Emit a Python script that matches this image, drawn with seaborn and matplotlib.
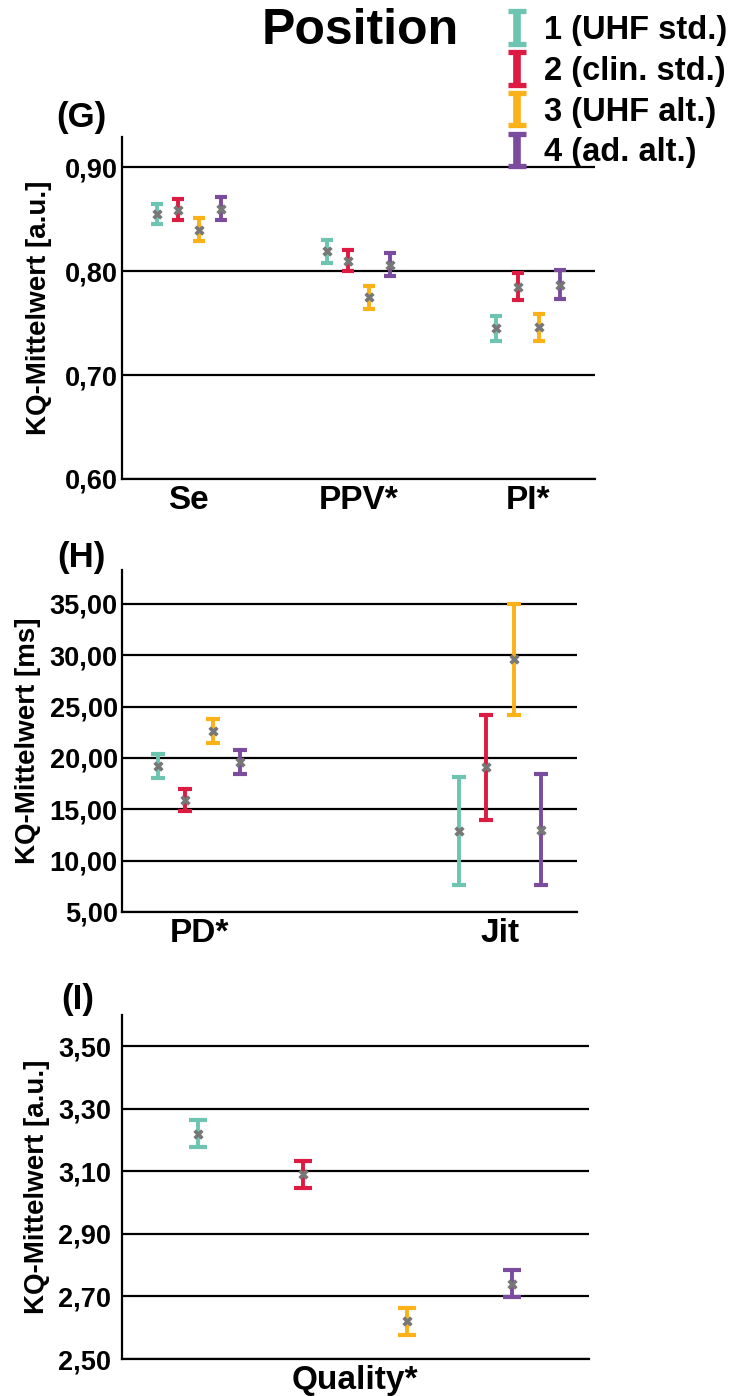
import numpy as np
import pandas as pd
import matplotlib
matplotlib.use("Agg")
import matplotlib.pyplot as plt
import seaborn as sns
from matplotlib.ticker import FuncFormatter
from matplotlib.transforms import ScaledTranslation
from matplotlib.legend_handler import HandlerErrorbar
from matplotlib.container import ErrorbarContainer

# ---------------- data ----------------
series_names = ["1 (UHF std.)", "2 (clin. std.)", "3 (UHF alt.)", "4 (ad. alt.)"]
series_colors = ["#6DC4B0", "#DC1A42", "#FBB118", "#7B4B9D"]

# Panel G
g_categories = ["Se", "PPV*", "PI*"]
g_means = [
    [0.855, 0.819, 0.745],
    [0.859, 0.810, 0.785],
    [0.840, 0.775, 0.746],
    [0.860, 0.806, 0.787],
]
g_errs = [
    [0.010, 0.011, 0.012],
    [0.010, 0.010, 0.013],
    [0.011, 0.011, 0.013],
    [0.011, 0.011, 0.014],
]
g_ticks = [0.60, 0.70, 0.80, 0.90]

# Panel H
h_categories = ["PD*", "Jit"]
h_means = [
    [19.2, 12.9],
    [15.9, 19.1],
    [22.6, 29.6],
    [19.6, 13.0],
]
h_errs = [
    [1.15, 5.25],
    [1.10, 5.10],
    [1.15, 5.40],
    [1.15, 5.40],
]
h_ticks = [5, 10, 15, 20, 25, 30, 35]

# Panel I
i_categories = ["Quality*"]
i_means = [[3.22], [3.09], [2.62], [2.74]]
i_errs = [[0.043], [0.043], [0.043], [0.043]]
i_ticks = [2.50, 2.70, 2.90, 3.10, 3.30, 3.50]

# ---------------- style ----------------
sns.set_theme(style="white")
plt.rcParams["font.family"] = ["Liberation Sans", "DejaVu Sans"]
plt.rcParams["font.weight"] = "bold"
for k in ["text.color", "axes.labelcolor", "xtick.color", "ytick.color"]:
    plt.rcParams[k] = "black"

W, H = 732, 1396
fig = plt.figure(figsize=(W / 100, H / 100), dpi=100)


def px_axes(left, right, top, bottom):
    return fig.add_axes([left / W, 1 - bottom / H, (right - left) / W, (bottom - top) / H])


comma = FuncFormatter(lambda v, p: f"{v:.2f}".replace(".", ","))


def draw_panel(ax, cats, means, errs, offsets, capsize, ticks, ylim, xlim,
               ylabel, label_shifts, ypad=3):
    rows = []
    for i, (m, e) in enumerate(zip(means, errs)):
        xs = np.arange(len(cats)) + offsets[i]
        ax.errorbar(xs, m, yerr=e, fmt="none", ecolor=series_colors[i],
                    elinewidth=2.8, capsize=capsize, capthick=3.0, zorder=3)
        for x, y in zip(xs, m):
            rows.append({"x": x, "y": y, "series": series_names[i]})
    df = pd.DataFrame(rows)
    sns.scatterplot(data=df, x="x", y="y", color="#777777", marker="X", s=55,
                    linewidth=0, ax=ax, zorder=5, legend=False)
    ax.set_xlim(*xlim)
    ax.set_ylim(*ylim)
    ax.set_yticks(ticks)
    ax.yaxis.set_major_formatter(comma)
    ax.set_xticks(np.arange(len(cats)))
    ax.set_xticklabels(cats, fontsize=24, fontweight="bold")
    for lab, dx in zip(ax.get_xticklabels(), label_shifts):
        lab.set_transform(lab.get_transform() + ScaledTranslation(dx / 100, 0, fig.dpi_scale_trans))
    ax.tick_params(axis="y", length=0, pad=ypad, labelsize=19.5)
    ax.tick_params(axis="x", length=0, pad=4)
    for t in ax.get_yticklabels():
        t.set_fontweight("bold")
    ax.grid(axis="y", color="black", linewidth=1.6)
    ax.grid(axis="x", visible=False)
    ax.set_axisbelow(True)
    for s in ["top", "right"]:
        ax.spines[s].set_visible(False)
    for s in ["left", "bottom"]:
        ax.spines[s].set_color("black")
        ax.spines[s].set_linewidth(1.6)
    ax.set_xlabel("")
    ax.set_ylabel(ylabel, fontsize=20, fontweight="bold")


# Panel G
axG = px_axes(122, 595, 137, 479)
draw_panel(axG, g_categories, g_means, g_errs,
           [-0.1875, -0.0625, 0.0625, 0.1875], 4.4, g_ticks,
           (0.60, 0.929), (-0.394, 2.394), "KQ-Mittelwert [a.u.]",
           [1, 14, 12])
axG.yaxis.set_label_coords(-(122 - 52) / 473, 0.5)

# Panel H
axH = px_axes(122, 577, 570, 912)
draw_panel(axH, h_categories, h_means, h_errs,
           [-0.135, -0.045, 0.045, 0.135], 5.2, h_ticks,
           (5, 38.3), (-0.256, 1.256), "KQ-Mittelwert [ms]",
           [22, 0])
axH.yaxis.set_label_coords(-(122 - 41) / 455, 0.5)

# Panel I
axI = px_axes(122, 589, 1015, 1359)
draw_panel(axI, i_categories, i_means, i_errs,
           [-1.5, -0.5, 0.5, 1.5], 6.2, i_ticks,
           (2.50, 3.60), (-2.22, 2.23), "KQ-Mittelwert [a.u.]",
           [-3], ypad=8)
axI.yaxis.set_label_coords(-(122 - 50) / 467, 0.5)

# Panel letters and title
for txt, x, y in [("(G)", 81, 117), ("(H)", 81, 558), ("(I)", 78, 1000)]:
    fig.text(x / W, 1 - y / H, txt, ha="center", va="center",
             fontsize=25, fontweight="bold")
fig.text(360 / W, 1 - 31 / H, "Position", ha="center", va="center",
         fontsize=36, fontweight="bold")

# Legend with thick "I" handles (proxy artists on a hidden axes)
proxy_ax = fig.add_axes([0, 0, 0.01, 0.01])
handles = []
for c in series_colors:
    handles.append(proxy_ax.errorbar([0], [0], yerr=[1], fmt="none", ecolor=c,
                                     elinewidth=5.5, capsize=6.3, capthick=3.8))
proxy_ax.set_visible(False)
fig.legend(handles, series_names, loc="upper left",
           bbox_to_anchor=(508 / W, 1 - 15 / H), frameon=False,
           handlelength=0.55, handletextpad=0.55, labelspacing=0.3,
           borderpad=0, borderaxespad=0,
           handler_map={ErrorbarContainer: HandlerErrorbar(xerr_size=0.5, yerr_size=0.5)},
           prop={"size": 23.5, "weight": "bold"})

fig.savefig("out.png", dpi=100)
